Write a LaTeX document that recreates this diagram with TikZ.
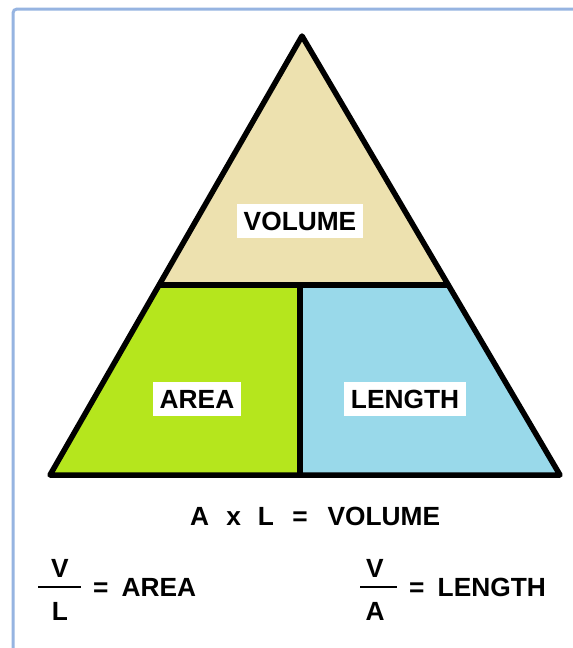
\documentclass[tikz,border=0pt]{standalone}
\usepackage{fontspec}
\setmainfont{Liberation Sans}
\definecolor{volc}{RGB}{237,225,175}
\definecolor{areac}{RGB}{181,230,29}
\definecolor{lenc}{RGB}{153,217,234}
\definecolor{framec}{RGB}{150,180,225}
\begin{document}
\begin{tikzpicture}[x=1pt,y=-1pt,
  lbl/.style={fill=white,inner xsep=7pt,inner ysep=8pt,text height=18.5pt,text depth=0pt,font=\fontsize{26.3}{29}\selectfont\bfseries},
  txt/.style={inner sep=0pt,text height=18.5pt,text depth=0pt,font=\fontsize{26.3}{29}\selectfont\bfseries},
  edge/.style={line width=5.5pt,line join=round}]
\useasboundingbox (0,0) rectangle (573,648);
\fill[white] (0,0) rectangle (573,648);
\draw[framec,line width=3pt,rounded corners=4pt] (13,660) -- (13,9) -- (590,9);
% coordinates
\coordinate (top) at (302,36);
\coordinate (bl) at (50,475);
\coordinate (br) at (560,475);
\coordinate (ml) at (159.2,285);
\coordinate (mr) at (448.2,285);
\coordinate (mm) at (300,285);
\coordinate (bm) at (300,475);
% fills
\fill[volc] (top) -- (mr) -- (ml) -- cycle;
\fill[areac] (ml) -- (mm) -- (bm) -- (bl) -- cycle;
\fill[lenc] (mm) -- (mr) -- (br) -- (bm) -- cycle;
% edges
\draw[edge] (top) -- (br) -- (bl) -- cycle;
\draw[edge] (ml) -- (mr);
\draw[edge] (mm) -- (bm);
% labels
\node[lbl] (vol) at (300,221) {VOLUME};
\node[lbl] (area) at (197,399) {AREA};
\node[lbl] (len) at (405,399) {LENGTH};
% equation
\node[txt,anchor=base west] (eq) at (190,525) {A\hspace{0.65em}x\hspace{0.65em}L\hspace{0.7em}=\hspace{0.75em}VOLUME};
% fraction V/L
\node[txt,anchor=base] (v1) at (60,577) {V};
\node[txt,anchor=base] (l1) at (60,620) {L};
\draw[line width=1.6pt] (38,587) -- (81,587);
\node[txt,anchor=base west] (a1) at (93,596) {=\hspace{0.5em}AREA};
% fraction V/A
\node[txt,anchor=base] (v2) at (375,577) {V};
\node[txt,anchor=base] (a2) at (375,620) {A};
\draw[line width=1.6pt] (360,587) -- (397,587);
\node[txt,anchor=base west] (l2) at (409,596) {=\hspace{0.5em}LENGTH};
\end{tikzpicture}
\end{document}
